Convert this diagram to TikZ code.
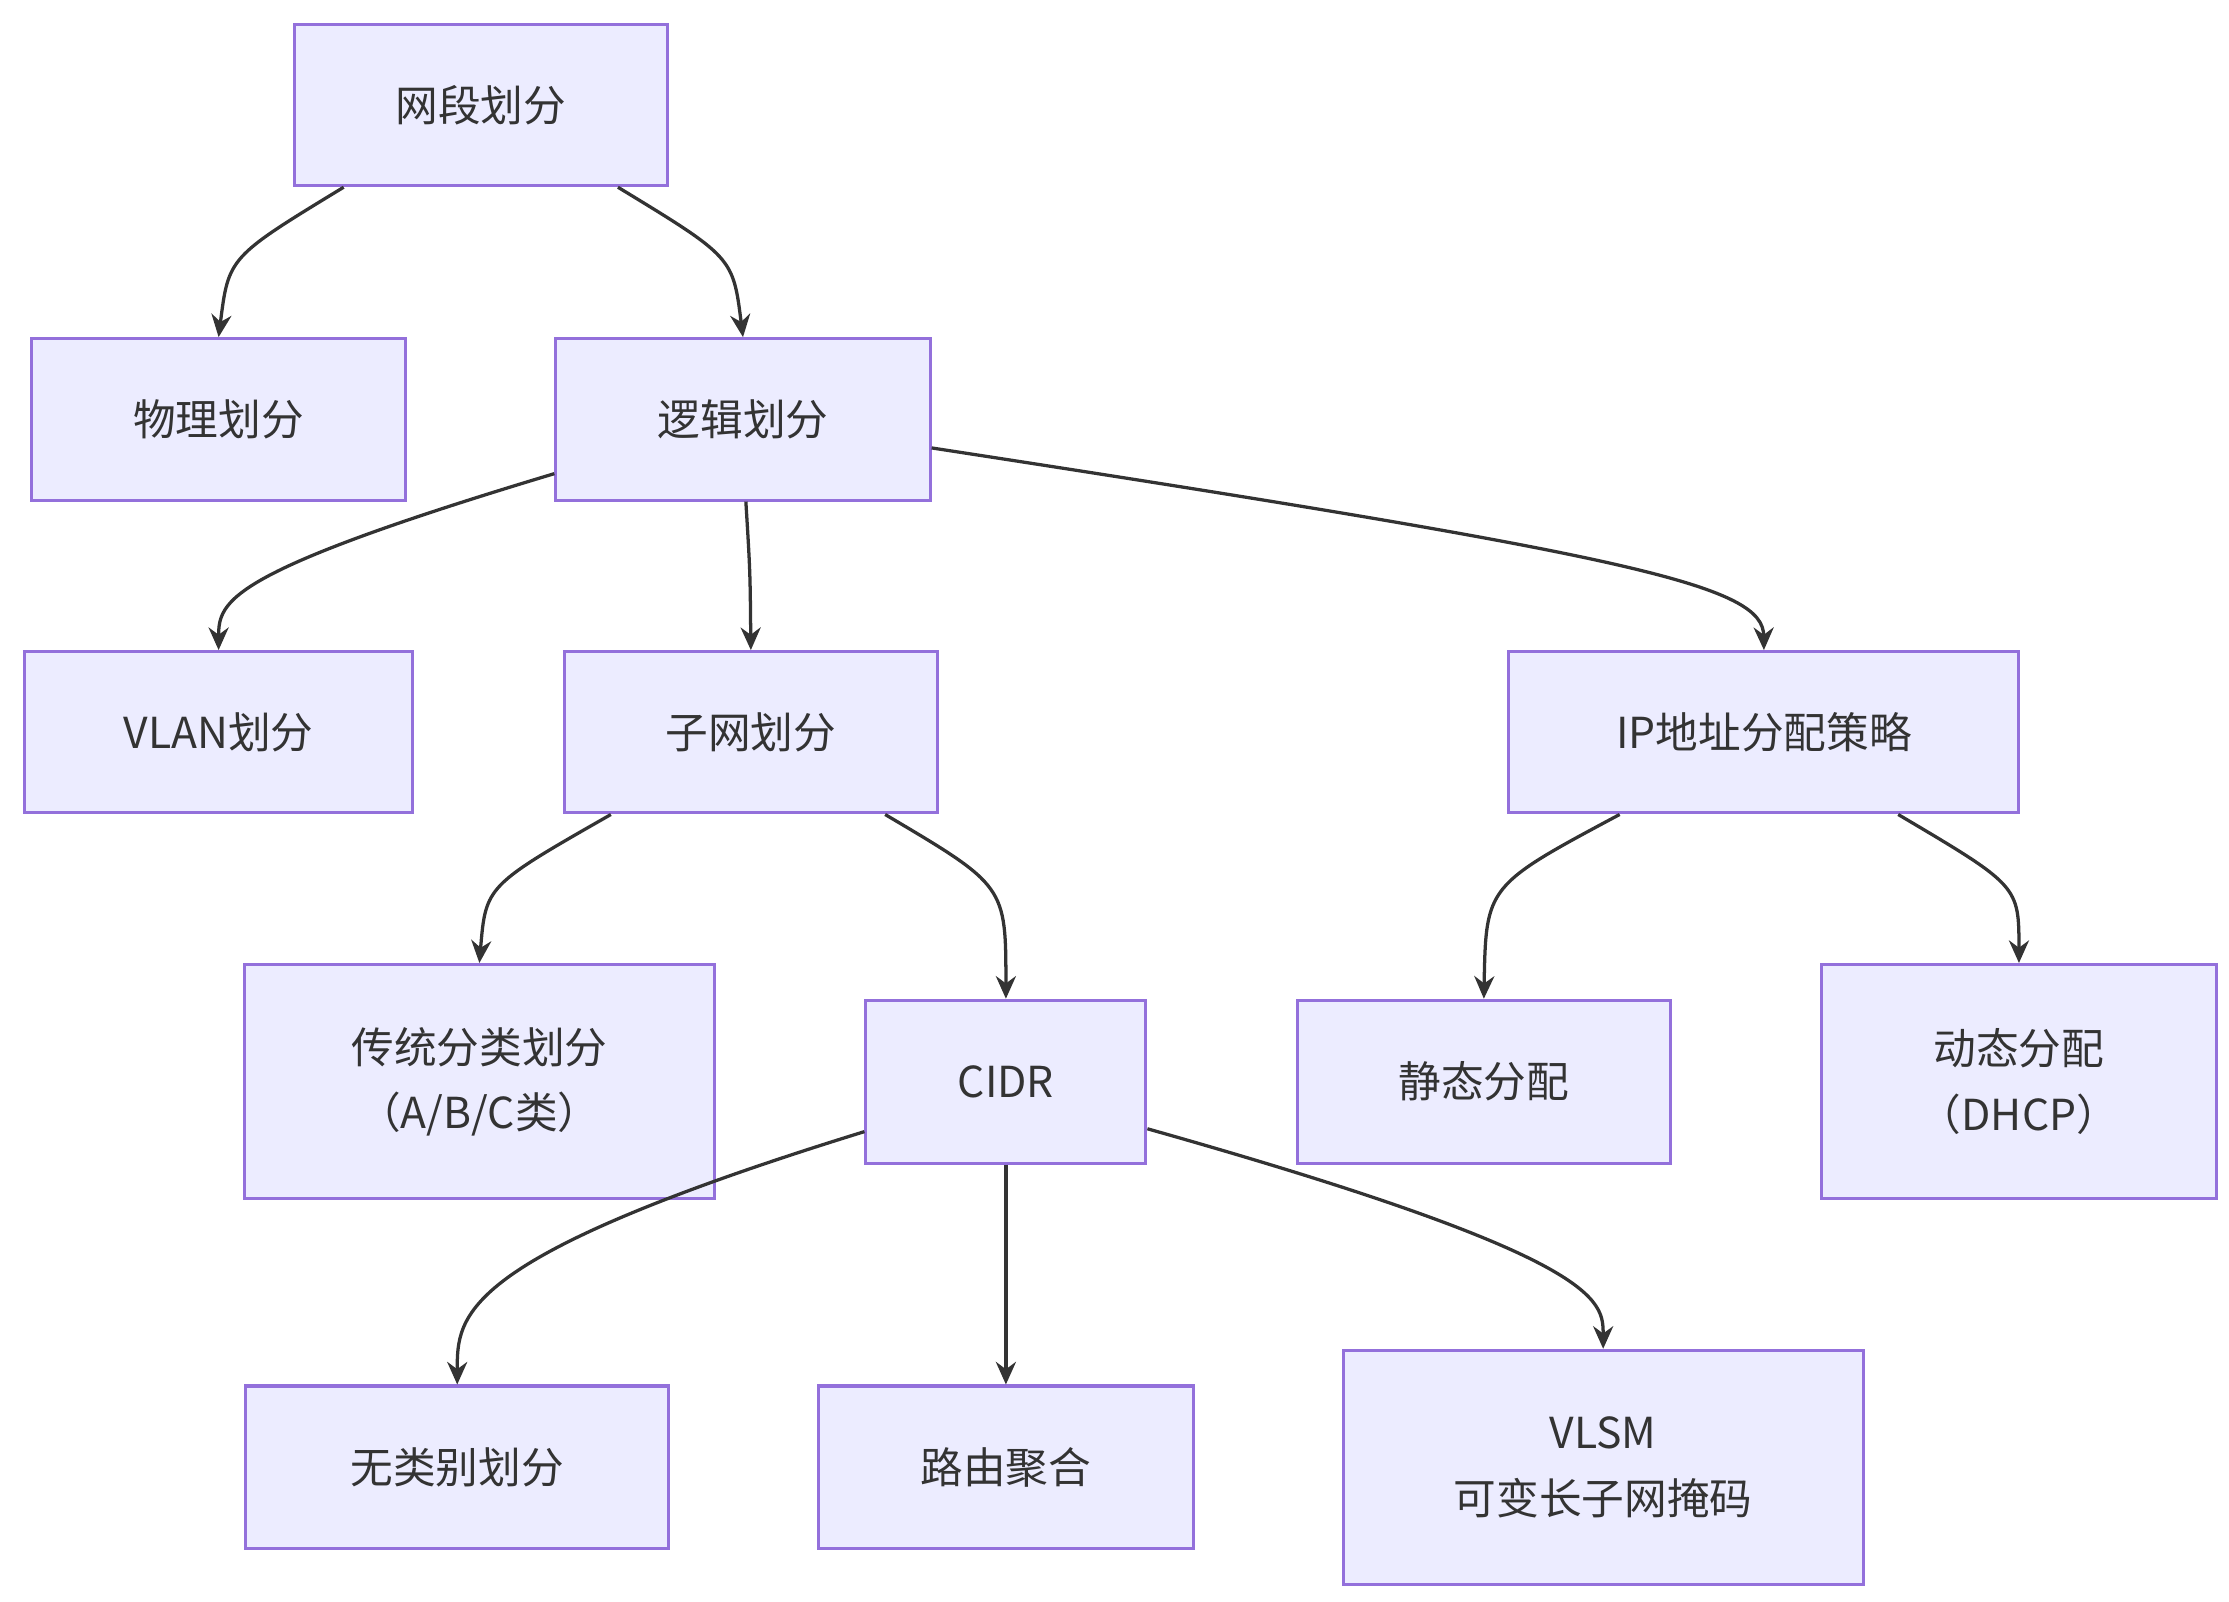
\documentclass[tikz,border=0pt]{standalone}
\usepackage{fontspec}
\setmainfont{Noto Sans CJK SC}
\usetikzlibrary{arrows.meta}
\definecolor{boxfill}{HTML}{ECECFF}
\definecolor{boxline}{HTML}{9370DB}
\definecolor{linkcol}{HTML}{333333}
\begin{document}
\begin{tikzpicture}[x=0.02cm,y=-0.02cm,
    box/.style={draw=boxline,fill=boxfill,line width=1.2pt,align=center,
      font=\fontsize{17}{26}\selectfont,text=linkcol,inner sep=0pt},
    link/.style={draw=linkcol,line width=1.3pt,-{Stealth[length=9pt,width=8pt]}}]
  \useasboundingbox (0,0) rectangle (1560,1121);
  % boxes
  \node[box,minimum width=5.22cm,minimum height=2.26cm](top) at (336.5,73.5) {网段划分};
  \node[box,minimum width=5.24cm,minimum height=2.26cm](phys) at (153,293.5) {物理划分};
  \node[box,minimum width=5.24cm,minimum height=2.26cm](logic) at (520,293.5) {逻辑划分};
  \node[box,minimum width=5.44cm,minimum height=2.26cm](vlan) at (153,512.5) {VLAN划分};
  \node[box,minimum width=5.22cm,minimum height=2.26cm](subnet) at (525.5,512.5) {子网划分};
  \node[box,minimum width=7.14cm,minimum height=2.26cm](ip) at (1234.5,512.5) {IP地址分配策略};
  \node[box,minimum width=6.58cm,minimum height=3.28cm](trad) at (335.5,757) {传统分类划分\\（A/B/C类）};
  \node[box,minimum width=3.92cm,minimum height=2.28cm](cidr) at (704,757) {CIDR};
  \node[box,minimum width=5.22cm,minimum height=2.28cm](static) at (1038.5,757) {静态分配};
  \node[box,minimum width=5.52cm,minimum height=3.28cm](dhcp) at (1413,757) {动态分配\\（DHCP）};
  \node[box,minimum width=5.92cm,minimum height=2.28cm](classless) at (320,1027) {无类别划分};
  \node[box,minimum width=5.24cm,minimum height=2.28cm](agg) at (704,1027) {路由聚合};
  \node[box,minimum width=7.28cm,minimum height=3.28cm](vlsm) at (1122,1027) {VLSM\\可变长子网掩码};
  % links
  \draw[link] ([xshift=-1.92cm]top.south) .. controls (160,180) .. (phys.north);
  \draw[link] ([xshift=1.92cm]top.south) .. controls (513,180) .. (logic.north);
  \draw[link] ([yshift=-0.76cm]logic.west) .. controls (160,400) and (153,420) .. (vlan.north);
  \draw[link] ([xshift=0.04cm]logic.south) .. controls (525,400) .. (subnet.north);
  \draw[link] ([yshift=-0.4cm]logic.east) .. controls (1150,390) and (1234,410) .. (ip.north);
  \draw[link] ([xshift=-1.96cm]subnet.south) .. controls (340,620) .. (trad.north);
  \draw[link] ([xshift=1.88cm]subnet.south) .. controls (704,620) .. (cidr.north);
  \draw[link] ([xshift=-2.02cm]ip.south) .. controls (1040,620) .. (static.north);
  \draw[link] ([xshift=1.88cm]ip.south) .. controls (1413,620) .. (dhcp.north);
  \draw[link] ([yshift=-0.7cm]cidr.west) .. controls (320,880) and (320,920) .. (classless.north);
  \draw[link] (cidr.south) -- (agg.north);
  \draw[link] ([yshift=-0.66cm]cidr.east) .. controls (1122,880) and (1122,910) .. (vlsm.north);
\end{tikzpicture}
\end{document}
